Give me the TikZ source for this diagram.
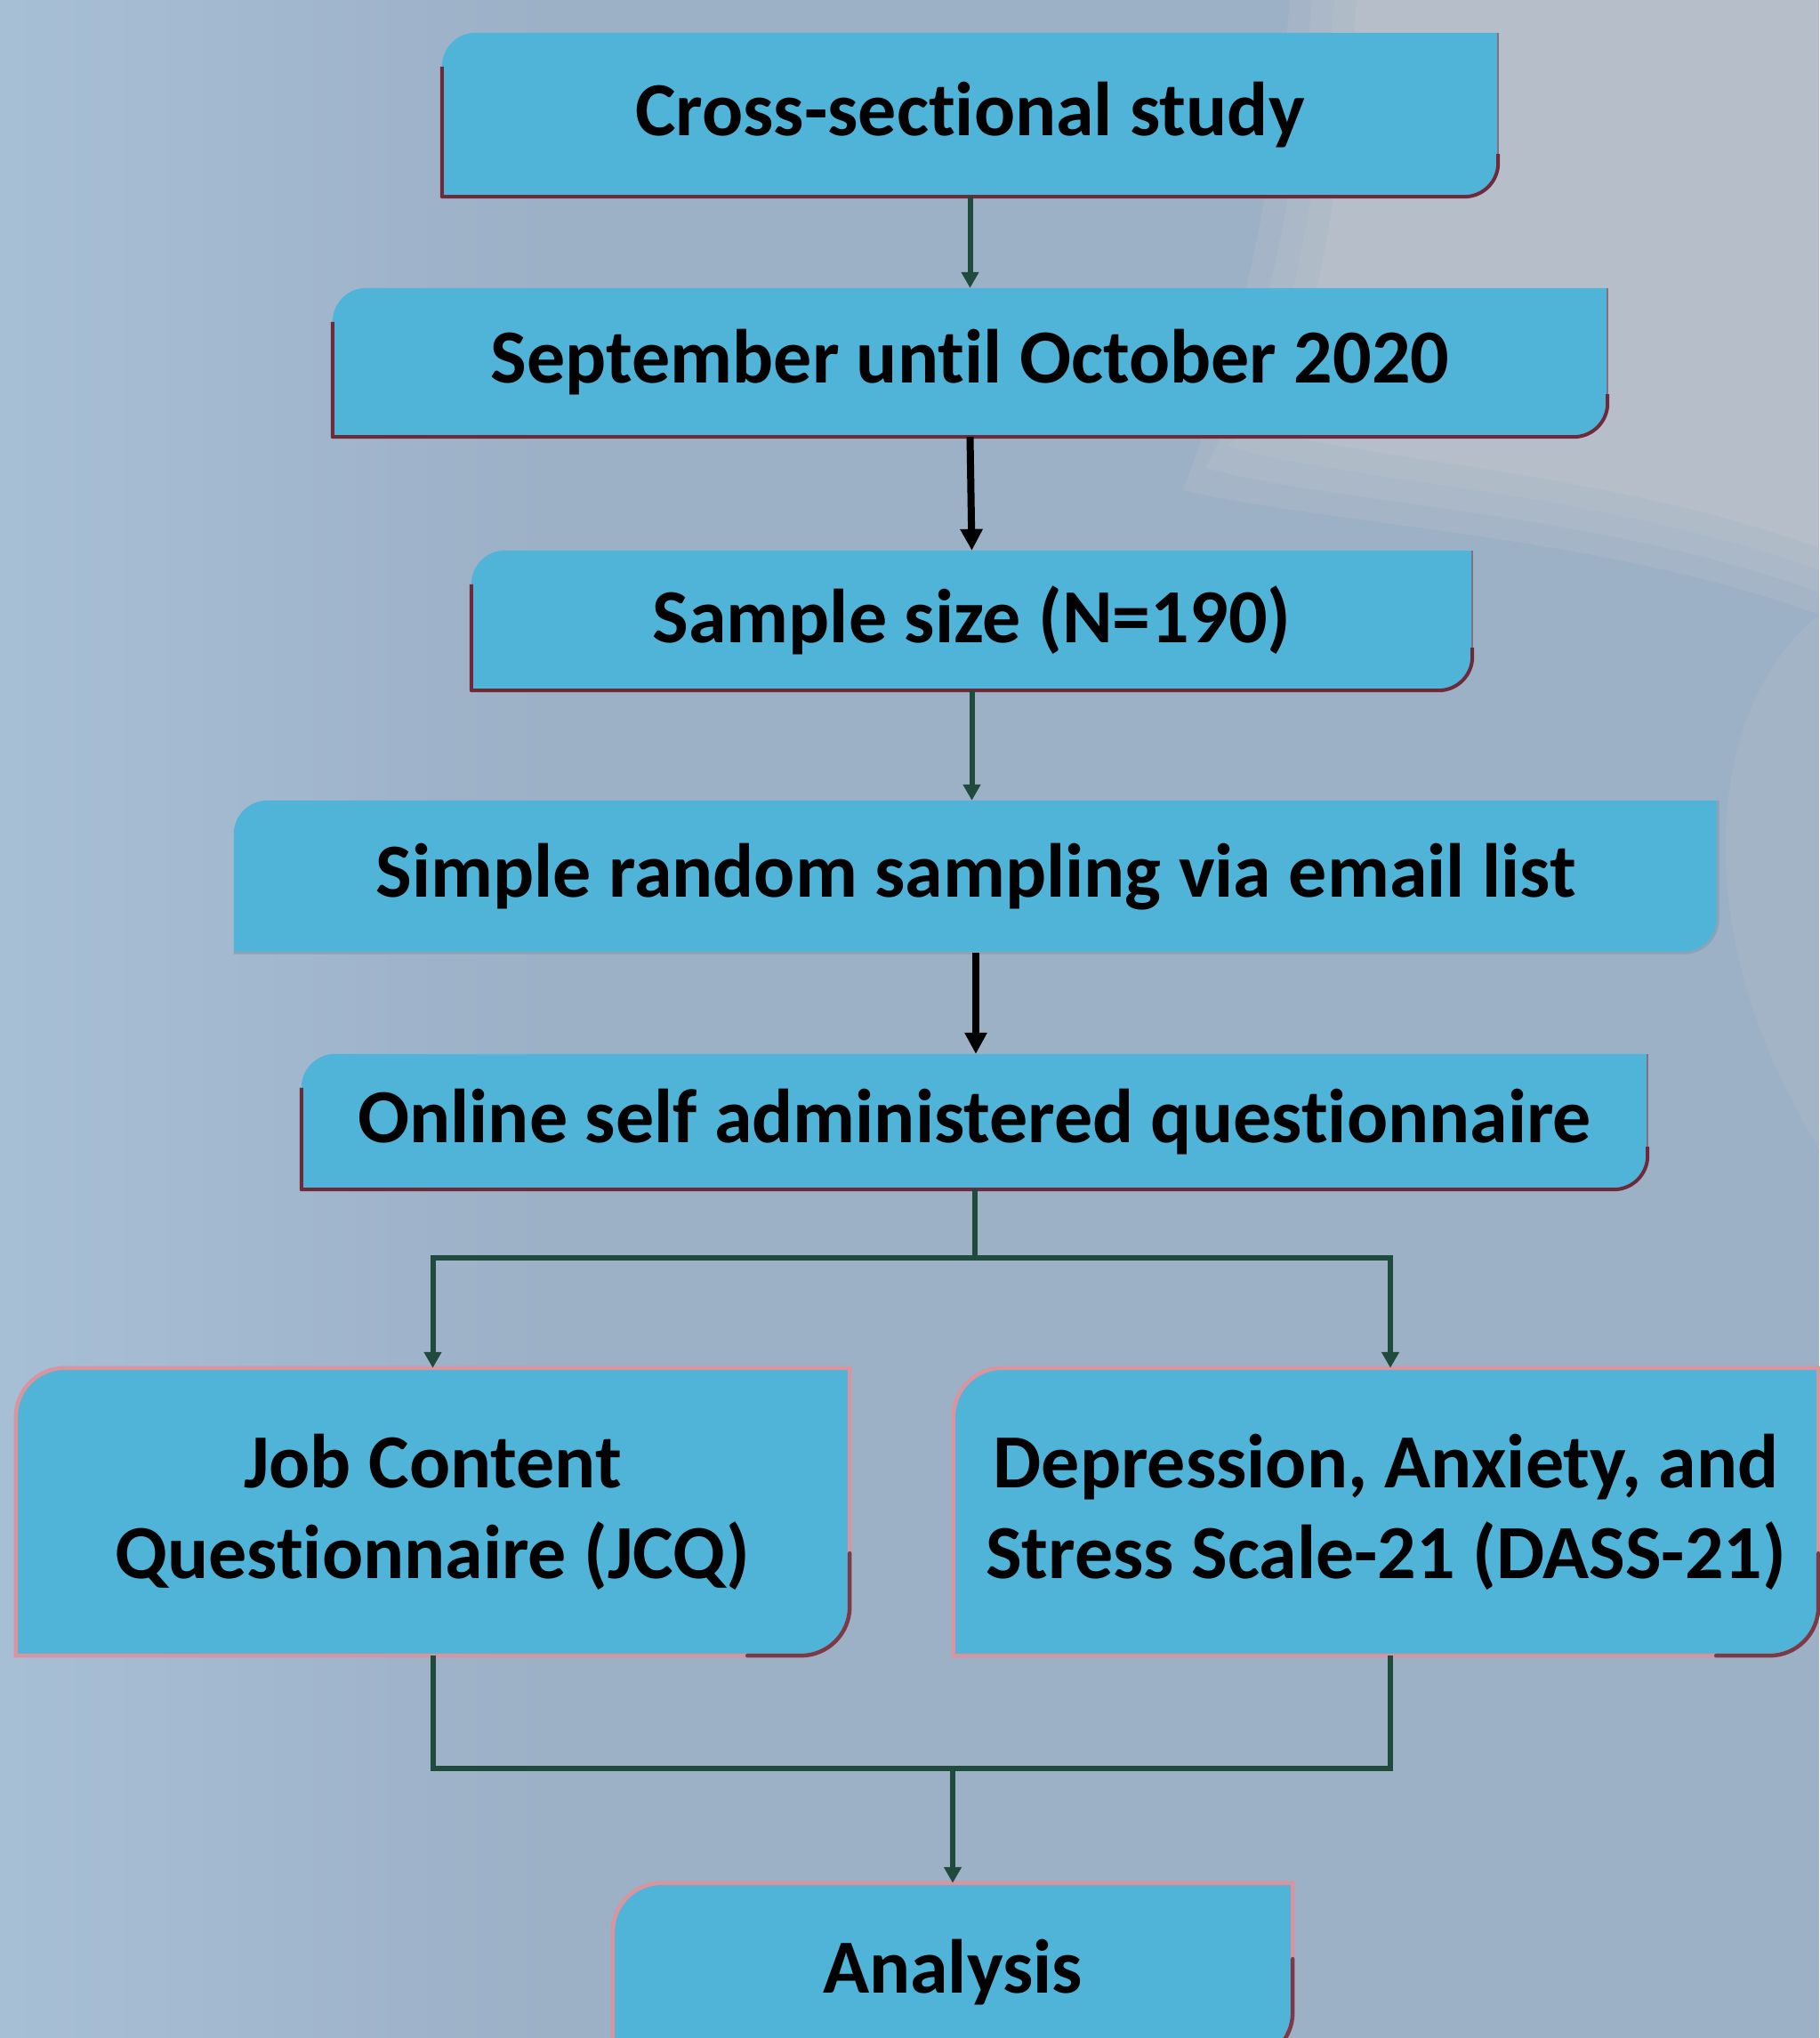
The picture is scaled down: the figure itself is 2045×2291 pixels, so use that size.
\documentclass[tikz,border=0pt]{standalone}
\usepackage{fontspec}
\setmainfont{Carlito}[Ligatures=NoCommon]
\usetikzlibrary{arrows.meta,calc}
\definecolor{bgbase}{HTML}{9CB0C6}
\definecolor{bgleft}{HTML}{A7BFD5}
\definecolor{bglight}{HTML}{BCC2CB}
\definecolor{boxfill}{HTML}{4FB4D8}
\definecolor{maroon}{HTML}{6E2A38}
\definecolor{pinkedge}{HTML}{D8949F}
\definecolor{darkedge}{HTML}{7A3A48}
\definecolor{greyedge}{HTML}{8AA3B8}
\definecolor{conn}{HTML}{1F4A3C}
\pgfdeclarelayer{back}
\pgfdeclarelayer{boxes}
\pgfsetlayers{back,boxes,main}
\tikzset{
  txt/.style={font=\fontsize{86}{102}\selectfont\bfseries, text=black, align=center, inner sep=0pt},
  thinconn/.style={draw=conn, line width=6pt},
  thinarrow/.style={thinconn, -{Triangle[width=19pt,length=18pt]}},
  thickarrow/.style={draw=black, line width=8pt, -{Triangle[width=24pt,length=24pt]}},
}
% rounded top-left and bottom-right corners, built on a node's anchors
\newcommand{\bshape}[3]{%
  \path[#3] (#1.south west) -- ([xshift=-#2]#1.south east)
    arc[start angle=-90,end angle=0,radius=#2] -- (#1.north east)
    -- ([xshift=#2]#1.north west) arc[start angle=90,end angle=180,radius=#2] -- cycle;}
% maroon edge on the left side and bottom
\newcommand{\lowerleft}[2]{%
  \draw[maroon, line width=4pt, line join=round] ([yshift=-#2]#1.north west) -- (#1.south west)
    -- ([xshift=-#2]#1.south east) arc[start angle=-90,end angle=0,radius=#2] -- ++(0,10);
  \draw[maroon!40!greyedge, line width=2pt] ([yshift=#2+10]#1.south east) -- (#1.north east);}
% darker edge on the right side of the lower boxes
\newcommand{\rightdark}[2]{%
  \draw[darkedge, line width=4.5pt, line cap=round] ([xshift=-#2-60]#1.south east) -- ([xshift=-#2]#1.south east)
    arc[start angle=-90,end angle=0,radius=#2] -- ([yshift=#2+60]#1.south east);}
\begin{document}
\begin{tikzpicture}[x=1pt,y=1pt]
\useasboundingbox (0,0) rectangle (2045,2291);

% nodes
\node[txt, minimum width=1187, minimum height=184] (b1) at (1090.5,2162) {Cross-sectional study};
\node[txt, minimum width=1433, minimum height=167] (b2) at (1090.5,1883.5) {September until October 2020};
\node[txt, minimum width=1125, minimum height=157] (b3) at (1092.5,1593.5) {Sample size (N=190)};
\node[txt, minimum width=1668, minimum height=171] (b4) at (1097,1305.5) {Simple random sampling via email list};
\node[txt, minimum width=1513, minimum height=152] (b5) at (1095.5,1030) {Online self administered questionnaire};
\node[txt, minimum width=937, minimum height=323] (b6) at (486.5,591.5) {Job Content\\Questionnaire (JCQ)};
\node[txt, minimum width=972, minimum height=323] (b7) at (1558,591.5) {Depression, Anxiety, and\\Stress Scale-21 (DASS-21)};
\node[txt, minimum width=764, minimum height=200] (b8) at (1071,74) {Analysis};

% background
\begin{pgfonlayer}{back}
\fill[bgbase] (0,0) rectangle (2045,2291);
\shade[left color=bgleft, right color=bgbase] (0,0) rectangle (620,2291);
\foreach \d/\o in {0/0.3,25/0.3,50/0.3,75/0.5} {
\fill[bglight, opacity=\o] (1450+\d,2291) .. controls (1430+\d,2050) and (1390+\d,1900-\d) .. (1330+\d,1740+\d)
   .. controls (1500,1700+\d) and (1800,1690+\d) .. (2045,1600+\d) -- (2045,2291) -- cycle;}
\fill[bglight, opacity=0.25] (2045,1600) .. controls (1920,1500) and (1890,1250) .. (2045,1000) -- cycle;
\end{pgfonlayer}

% box shapes
\begin{pgfonlayer}{boxes}
\foreach \n in {b1,b2,b3,b5} {\bshape{\n}{38}{fill=boxfill} \lowerleft{\n}{38}}
\bshape{b4}{38}{fill=boxfill}
\draw[greyedge, line width=3pt] (b4.south west) -- ([xshift=-38]b4.south east)
   arc[start angle=-90,end angle=0,radius=38] -- (b4.north east);
\foreach \n in {b6,b7,b8} {\bshape{\n}{55}{fill=boxfill, draw=pinkedge, line width=4.5pt} \rightdark{\n}{55}}
\end{pgfonlayer}

% connectors
\draw[thinarrow] (b1.south) -- (b2.north);
\draw[thickarrow] (b2.south) -- (b3.north);
\draw[thinarrow] (b3.south) -- (b3.south |- b4.north);
\draw[thickarrow] (b4.south) -- (b4.south |- b5.north);
\coordinate (split) at ($(b5.south)+(0,-77)$);
\coordinate (join) at (b8.north |- 0,303);
\draw[thinconn] (b5.south) -- (split);
\draw[thinarrow] (split) -| (b6.north);
\draw[thinarrow] (split) -| ([xshift=5]b7.north);
\draw[thinconn] (b6.south) |- (join);
\draw[thinconn] ([xshift=5]b7.south) |- (join);
\draw[thinarrow] (join) -- (b8.north);
\end{tikzpicture}
\end{document}
